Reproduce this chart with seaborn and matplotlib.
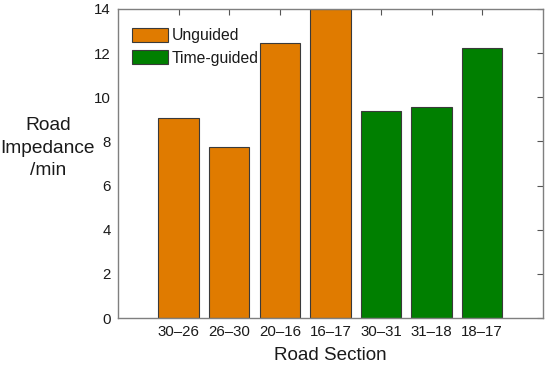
import matplotlib
matplotlib.use("Agg")
import matplotlib.pyplot as plt
import seaborn as sns
import pandas as pd

# Data
sections = ["30\u201326", "26\u201330", "20\u201316", "16\u201317", "30\u201331", "31\u201318", "18\u201317"]
impedance = [9.05, 7.74, 12.45, 13.98, 9.38, 9.55, 12.25]
groups = ["Unguided"] * 4 + ["Time-guided"] * 3
yticks = [0, 2, 4, 6, 8, 10, 12, 14]

sns.set_style("white")
plt.rcParams['font.family'] = ['Liberation Sans', 'DejaVu Sans']
plt.rcParams['text.color'] = '#1a1a1a'
plt.rcParams['xtick.labelcolor'] = '#1a1a1a'
plt.rcParams['ytick.labelcolor'] = '#1a1a1a'
plt.rcParams['axes.labelcolor'] = '#1a1a1a'

df = pd.DataFrame({"section": sections, "impedance": impedance, "group": groups})
palette = {"Unguided": "#E07B00", "Time-guided": "#007F00"}

fig = plt.figure(figsize=(5.5, 3.75), dpi=100)
ax = fig.add_axes([0.2145, 0.152, 0.7725, 0.824])

sns.barplot(data=df, x="section", y="impedance", hue="group", dodge=False,
            palette=palette, width=0.8, edgecolor="#3a3a3a", linewidth=0.8,
            saturation=1, ax=ax)

ax.set_xlim(-1.2, 7.2)
ax.set_ylim(0, 14)
ax.set_yticks(yticks)
ax.tick_params(direction="in", top=True, right=True, length=4, width=0.8,
               color="#555555", labelsize=10.8, pad=5)
for s in ax.spines.values():
    s.set_color("#7f7f7f")
    s.set_linewidth(1)

ax.set_xlabel("Road Section", fontsize=13.6, labelpad=6)
ax.set_ylabel("Road\nImpedance\n/min", fontsize=13.8, rotation=0, ha="center",
              va="center", multialignment="center", linespacing=1.4)
ax.yaxis.set_label_coords(-0.165, 0.55)

leg = ax.legend(loc="upper left", bbox_to_anchor=(0.0, 0.985), frameon=False,
                fontsize=11.3, handlelength=2.3, handleheight=1.0,
                handletextpad=0.2, labelspacing=0.45, borderaxespad=0.5)
for h in leg.legend_handles:
    h.set_edgecolor("#3a3a3a")

fig.savefig("out.png", dpi=100)
